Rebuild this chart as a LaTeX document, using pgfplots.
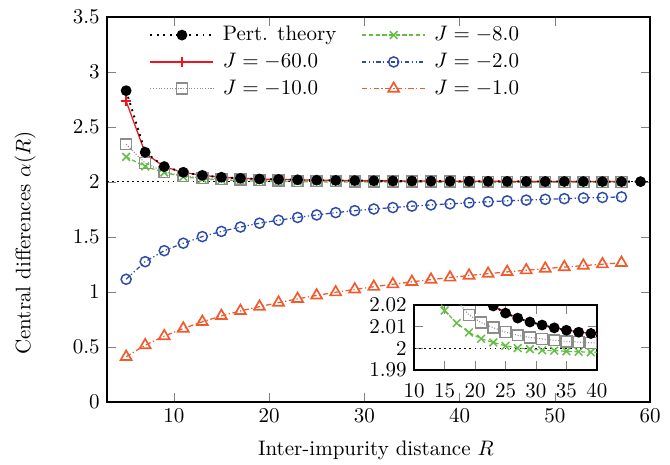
\documentclass[border=0pt]{standalone}
\usepackage{pgfplots}
\pgfplotsset{compat=1.18}
\usepackage{pgfplotstable}
\definecolor{cgreen}{RGB}{100,190,70}
\definecolor{cblue}{RGB}{45,75,170}
\definecolor{corange}{RGB}{240,90,45}
\definecolor{cred}{RGB}{240,20,30}
\definecolor{cgray}{RGB}{140,140,140}

\pgfplotstableread{
R  pert   j60    j10    j8     j2    j1
5  2.830  2.735  2.343  2.228  1.115 0.410
7  2.270  2.262  2.171  2.141  1.275 0.516
9  2.140  2.138  2.092  2.086  1.375 0.598
11 2.088  2.087  2.056  2.047  1.443 0.667
13 2.060  2.060  2.035  2.028  1.503 0.728
15 2.043  2.043  2.028  2.0174 1.550 0.782
17 2.033  2.033  2.022  2.0116 1.590 0.827
19 2.027  2.027  2.0154 2.0073 1.625 0.866
21 2.023  2.023  2.0118 2.0044 1.652 0.903
23 2.0195 2.0196 2.0095 2.0027 1.677 0.937
25 2.0162 2.0163 2.0074 2.0011 1.700 0.968
27 2.0139 2.0140 2.0060 2.0001 1.721 0.997
29 2.0121 2.0122 2.0050 1.9996 1.739 1.023
31 2.0107 2.0108 2.0043 1.9991 1.754 1.047
33 2.0094 2.0095 2.0037 1.9989 1.767 1.070
35 2.0083 2.0084 2.0032 1.9986 1.780 1.092
37 2.0074 2.0075 2.0028 1.9984 1.791 1.112
39 2.0068 2.0069 2.0025 1.9982 1.801 1.131
41 2.0062 2.0063 2.0023 1.9981 1.811 1.149
43 2.0056 2.0057 2.0021 1.9980 1.820 1.166
45 2.0051 2.0052 2.0019 1.9980 1.828 1.182
47 2.0047 2.0048 2.0018 1.9979 1.835 1.197
49 2.0043 2.0044 2.0016 1.9979 1.842 1.212
51 2.0040 2.0041 2.0015 1.9978 1.848 1.226
53 2.0037 2.0038 2.0014 1.9978 1.854 1.239
55 2.0034 2.0035 2.0013 1.9978 1.859 1.252
57 2.0032 2.0033 2.0012 1.9977 1.864 1.265
59 2.0030 nan    nan    nan    nan   nan
}\data

\pgfplotsset{
  spert/.style={black, line width=0.9pt, dash pattern=on 0.9pt off 2.2pt, mark=*, mark size=2.1pt, mark options={solid, fill=black}},
  sj60/.style={cred, line width=0.6pt, mark=+, mark size=2.3pt, mark options={solid, line width=0.7pt}},
  sj10/.style={cgray, line width=0.5pt, dash pattern=on 0.5pt off 0.8pt, mark=square, mark size=2.6pt, mark options={solid, line width=0.7pt}},
  sj8/.style={cgreen, line width=0.6pt, dash pattern=on 2pt off 1.2pt, mark=x, mark size=2.6pt, mark options={solid, line width=0.7pt}},
  sj2/.style={cblue, line width=0.6pt, dash pattern=on 2pt off 1.2pt on 0.6pt off 1.2pt on 0.6pt off 1.2pt, mark=o, mark size=2.4pt, mark options={solid, line width=0.7pt}},
  sj1/.style={corange, line width=0.6pt, dash pattern=on 2.5pt off 1.2pt on 0.6pt off 1.2pt, mark=triangle, mark size=3pt, mark options={solid, line width=0.8pt}},
}

\begin{document}
\begin{tikzpicture}
\begin{axis}[
  name=main,
  scale only axis,
  width=258.6pt, height=183.3pt,
  xmin=3, xmax=60, ymin=0, ymax=3.5,
  xtick={10,20,30,40,50,60},
  ytick={0,0.5,1,1.5,2,2.5,3,3.5},
  tick align=inside,
  axis line style={line width=0.6pt},
  xlabel={Inter-impurity distance $R$},
  ylabel={Central differences $\alpha(R)$},
  xlabel style={at={(axis description cs:0.495,-0.125)}, anchor=center},
  ylabel style={at={(axis description cs:-0.151,0.413)}, anchor=center},
  legend columns=2,
  legend cell align=left,
  legend image code/.code={\draw[mark repeat=2,mark phase=2,#1] plot coordinates {(0pt,0pt) (15pt,0pt) (30pt,0pt)};},
  legend style={draw=none, fill=none, at={(0,1)}, anchor=north west, xshift=17pt, yshift=0pt, row sep=0pt,
    nodes={inner ysep=2.2pt},
    /tikz/column 1/.style={column sep=2pt},
    /tikz/column 2/.style={column sep=10pt},
    /tikz/column 3/.style={column sep=2pt}},
]
\addlegendimage{spert}\addlegendentry{Pert. theory}
\addlegendimage{sj8}\addlegendentry{$J=-8.0$}
\addlegendimage{sj60}\addlegendentry{$J=-60.0$}
\addlegendimage{sj2}\addlegendentry{$J=-2.0$}
\addlegendimage{sj10}\addlegendentry{$J=-10.0$}
\addlegendimage{sj1}\addlegendentry{$J=-1.0$}

\addplot[forget plot, black, line width=0.5pt, dash pattern=on 0.8pt off 1.6pt] coordinates {(3,2) (60,2)};
\addplot[forget plot, sj1] table[x=R, y=j1] {\data};
\addplot[forget plot, sj2] table[x=R, y=j2] {\data};
\addplot[forget plot, sj10] table[x=R, y=j10] {\data};
\addplot[forget plot, sj8] table[x=R, y=j8] {\data};
\addplot[forget plot, sj60] table[x=R, y=j60] {\data};
\addplot[forget plot, spert] table[x=R, y=pert] {\data};
\end{axis}

\begin{axis}[
  at={(main.south west)}, anchor=south west, xshift=146.2pt, yshift=15.2pt,
  scale only axis,
  width=87.1pt, height=31pt,
  xmin=10, xmax=40, ymin=1.99, ymax=2.02,
  xtick={10,15,20,25,30,35,40},
  ytick={1.99,2,2.01,2.02},
  scaled y ticks=false,
  yticklabel style={/pgf/number format/fixed, /pgf/number format/precision=2},
  xticklabel style={yshift=-3pt},
  tick align=inside,
  axis line style={line width=0.6pt},
  clip marker paths=true,
]
\addplot[black, line width=0.5pt, dash pattern=on 0.8pt off 1.6pt] coordinates {(10,2) (40,2)};
\addplot[sj10] table[x=R, y=j10] {\data};
\addplot[sj8] table[x=R, y=j8] {\data};
\addplot[sj60] table[x=R, y=j60] {\data};
\addplot[spert] table[x=R, y=pert] {\data};
\end{axis}

\pgfresetboundingbox
\path[use as bounding box] ([xshift=-51pt,yshift=-30pt]main.south west) rectangle ([xshift=9.5pt,yshift=8.1pt]main.north east);
\end{tikzpicture}
\end{document}
